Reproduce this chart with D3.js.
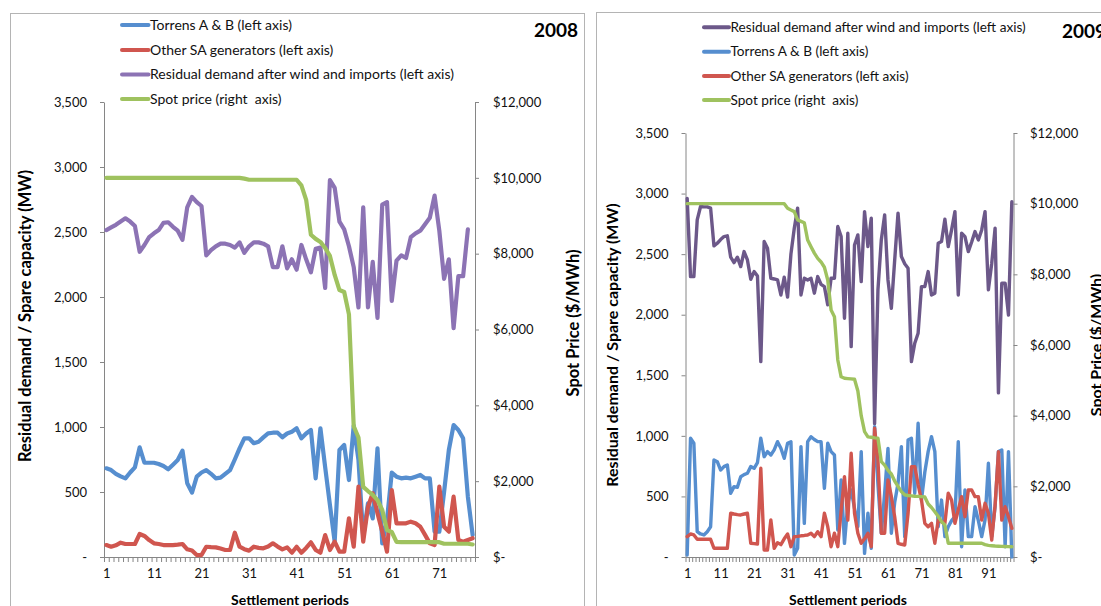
<!DOCTYPE html>
<html>
<head>
<meta charset="utf-8">
<script src="https://cdn.jsdelivr.net/npm/d3@7"></script>
<style>
  html, body { margin: 0; padding: 0; background: #fff; }
  svg { display: block; font-family: Lato, "Open Sans", "Liberation Sans", sans-serif; }
</style>
</head>
<body>
<svg id="chart" width="1101" height="606"></svg>
<script>
// ---------- Categories and tick labels ----------
const periods2008 = d3.range(1, 79);   // settlement periods 1..78
const periods2009 = d3.range(1, 99);   // settlement periods 1..98
const periodLabels = [1, 11, 21, 31, 41, 51, 61, 71, 81, 91];
const mwTicks = [0, 500, 1000, 1500, 2000, 2500, 3000, 3500];
const mwTickLabels = ["-", "500", "1,000", "1,500", "2,000", "2,500", "3,000", "3,500"];
const priceTicks = [0, 2000, 4000, 6000, 8000, 10000, 12000];
const priceTickLabels = ["$-", "$2,000", "$4,000", "$6,000", "$8,000", "$10,000", "$12,000"];

// ---------- 2008 series (MW, $/MWh) ----------
const torrens2008 = [682,669,640,620,605,650,690,844,725,725,
  725,715,700,675,710,746,818,567,495,618,
  650,669,640,605,610,640,669,750,836,913,
  913,875,887,920,951,956,956,921,950,964,
  990,913,950,977,605,990,690,400,118,823,
  862,592,1010,746,156,413,297,836,105,285,
  649,618,605,610,605,618,631,605,605,195,
  195,500,823,1015,977,913,464,170];
const otherSA2008 = [92,79,90,110,100,100,100,177,162,130,
  105,100,92,92,92,95,100,59,50,15,
  15,79,76,74,65,54,54,187,79,60,
  49,79,70,67,80,105,80,59,74,33,
  79,33,70,113,54,33,169,54,118,41,
  41,297,79,541,118,387,490,336,195,41,
  515,259,259,259,272,260,233,170,105,92,
  541,233,195,464,131,118,131,144];
const residual2008 = [2515,2535,2555,2580,2605,2580,2546,2348,2400,2460,
  2490,2515,2570,2575,2540,2510,2440,2690,2770,2730,
  2700,2320,2360,2390,2410,2410,2400,2380,2420,2340,
  2390,2420,2420,2410,2390,2230,2230,2390,2220,2290,
  2210,2400,2290,2190,2370,2380,2070,2900,2840,2580,
  2520,2390,2230,1920,2690,1920,2270,1840,2710,2730,
  1970,2280,2320,2300,2460,2490,2510,2560,2610,2780,
  2510,2140,2290,1760,2160,2160,2520,null];
const spot2008 = [10000,10000,10000,10000,10000,10000,10000,10000,10000,10000,
  10000,10000,10000,10000,10000,10000,10000,10000,10000,10000,
  10000,10000,10000,10000,10000,10000,10000,10000,10000,9980,
  9950,9950,9950,9950,9950,9950,9950,9950,9950,9950,
  9950,9800,9420,8500,8390,8310,8150,7940,7440,7040,
  6990,6400,3450,3150,1850,1740,1640,1500,1240,710,
  660,400,390,390,390,390,390,390,390,390,
  390,350,350,350,350,350,350,330];

// ---------- 2009 series (MW, $/MWh) ----------
const residual2009 = [2960,2315,2315,2783,2893,2890,2890,2880,2568,2590,
  2620,2645,2651,2475,2430,2475,2397,2521,2452,2293,
  2356,2320,1613,2604,2549,2301,2295,2287,2163,2310,
  2145,2500,2714,2880,2163,2301,2287,2301,2178,2315,
  2250,2232,2081,2301,2301,2728,2645,1971,2673,1737,
  2576,2659,2273,2851,2562,2797,1100,2205,2617,2824,
  2287,2053,2450,2838,2480,2420,2384,1613,1765,1847,
  2232,2232,2356,2163,2178,2590,2604,2789,2562,2700,
  2851,2163,2673,2645,2521,2600,2686,2617,2700,2851,
  2205,2425,2714,1355,2260,2260,1998,2933];
const torrens2009 = [16,980,939,209,190,182,209,250,801,787,
  718,746,760,526,581,575,663,680,691,746,
  732,779,980,828,870,842,884,952,898,815,
  939,952,16,72,911,278,952,993,970,952,
  952,567,939,870,842,223,636,113,443,553,
  400,250,870,30,361,72,1076,600,196,526,
  897,196,450,608,911,168,966,980,526,1104,
  470,700,870,993,870,250,470,168,250,300,
  333,952,85,553,168,168,415,300,168,306,
  774,168,415,870,884,85,870,0];
const otherSA2009 = [168,190,182,146,146,146,146,146,72,72,
  72,72,72,361,355,350,347,355,361,113,
  110,107,732,58,58,305,72,118,102,150,
  190,85,168,170,175,178,182,196,168,209,
  168,361,250,85,196,85,380,663,305,856,
  361,196,113,150,196,85,1063,801,196,196,
  636,500,333,113,105,99,361,746,746,600,
  470,278,250,278,113,305,290,278,526,470,
  278,390,498,333,553,553,498,498,305,443,
  361,140,429,870,305,415,333,237];
const spot2009 = [10000,10000,10000,10000,10000,10000,10000,10000,10000,10000,
  10000,10000,10000,10000,10000,10000,10000,10000,10000,10000,
  10000,10000,10000,10000,10000,10000,10000,10000,10000,10000,
  9870,9820,9775,9540,9500,9460,8970,8780,8600,8450,
  8350,8200,7840,6990,6800,5576,5100,5060,5050,5040,
  5030,4700,4000,3550,3400,3390,3370,3360,2700,2600,
  2450,2350,2150,2000,1850,1760,1740,1730,1720,1715,
  1710,1700,1500,1400,1280,1150,1000,906,390,388,
  388,388,388,388,388,388,388,388,388,350,
  330,320,310,305,300,297,294,292];

// ---------- Colours ----------
const COL = {
  torrens: "#568ecf",
  other: "#d0564f",
  residualLight: "#8c73b4",
  residualDark: "#6c5889",
  spot: "#9fc25f",
  axis: "#868686",
  frame: "#b4b4b4",
  text: "#111"
};

const svg = d3.select("#chart");

function drawPanel(cfg) {
  const g = svg.append("g");

  // outer frame of the chart area
  g.append("rect")
    .attr("x", cfg.frame[0] + 0.5).attr("y", cfg.frame[1] + 0.5)
    .attr("width", cfg.frame[2]).attr("height", cfg.frame[3])
    .attr("fill", "#fff").attr("stroke", COL.frame).attr("stroke-width", 1);

  const n = cfg.periods.length;
  const x = d3.scaleLinear().domain([0.5, n + 0.5]).range([cfg.left, cfg.right]);
  const yL = d3.scaleLinear().domain([0, 3500]).range([cfg.bottom, cfg.top]);
  const yR = d3.scaleLinear().domain([0, 12000]).range([cfg.bottom, cfg.top]);

  const styleAxis = (sel, fs) => {
    sel.select(".domain").attr("stroke", COL.axis).attr("stroke-width", 1);
    sel.selectAll(".tick line").attr("stroke", COL.axis).attr("stroke-width", 1);
    sel.selectAll(".tick text").attr("fill", COL.text)
      .style("font-size", fs + "px").style("font-family", "Lato, 'Open Sans', sans-serif");
  };

  // left value axis (MW)
  const axL = g.append("g").attr("transform", `translate(${cfg.left},0)`)
    .call(d3.axisLeft(yL).tickValues(mwTicks).tickFormat((d, i) => mwTickLabels[i])
      .tickSize(4).tickSizeOuter(0).tickPadding(13));
  styleAxis(axL, cfg.tickFont);

  // right value axis ($/MWh), labels left aligned
  const axR = g.append("g").attr("transform", `translate(${cfg.right},0)`)
    .call(d3.axisRight(yR).tickValues(priceTicks).tickFormat((d, i) => priceTickLabels[i])
      .tickSize(4).tickSizeOuter(0).tickPadding(cfg.rightPad));
  styleAxis(axR, cfg.tickFont);

  // category axis: minor marks between periods
  const edges = d3.range(0, n + 1).map(k => k + 0.5);
  const axB = g.append("g").attr("transform", `translate(0,${cfg.bottom})`)
    .call(d3.axisBottom(x).tickValues(edges).tickFormat("").tickSize(5).tickSizeOuter(0));
  styleAxis(axB, cfg.tickFont);
  // category labels every ten periods
  const axBL = g.append("g").attr("transform", `translate(0,${cfg.bottom})`)
    .call(d3.axisBottom(x).tickValues(periodLabels.filter(p => p <= n))
      .tickFormat(d3.format("d")).tickSize(0).tickPadding(12));
  axBL.select(".domain").remove();
  styleAxis(axBL, cfg.tickFont);

  // series lines
  cfg.series.forEach(s => {
    const yScale = s.axis === "right" ? yR : yL;
    const pts = cfg.periods.map((p, i) => ({ p, v: s.values[i] }));
    g.append("path")
      .datum(pts)
      .attr("fill", "none")
      .attr("stroke", s.color)
      .attr("stroke-width", cfg.lineWidth)
      .attr("stroke-linejoin", "round")
      .attr("stroke-linecap", "round")
      .attr("d", d3.line().defined(d => d.v != null).x(d => x(d.p)).y(d => yScale(d.v)));
  });

  // legend
  const lg = g.append("g");
  cfg.legend.forEach((s, i) => {
    const yy = cfg.legendY[i];
    lg.append("line")
      .attr("x1", cfg.legendX[0]).attr("x2", cfg.legendX[1])
      .attr("y1", yy).attr("y2", yy)
      .attr("stroke", s.color).attr("stroke-width", 4).attr("stroke-linecap", "round");
    lg.append("text")
      .attr("x", cfg.legendX[1] + 1.5).attr("y", yy)
      .attr("dy", "0.35em")
      .attr("fill", COL.text)
      .style("font-size", cfg.legendFont + "px")
      .style("white-space", "pre")
      .text(s.label);
  });

  // year title
  g.append("text")
    .attr("x", cfg.yearPos[0]).attr("y", cfg.yearPos[1]).attr("dy", "0.35em")
    .attr("text-anchor", cfg.yearAnchor)
    .attr("fill", "#000").style("font-size", "19px").style("font-weight", "bold")
    .text(cfg.year);

  // axis titles
  g.append("text")
    .attr("transform", `translate(${cfg.leftTitle[0]},${cfg.leftTitle[1]}) rotate(-90)`)
    .attr("text-anchor", "middle").attr("dy", "0.35em")
    .attr("fill", "#000").style("font-size", cfg.yTitleFont + "px").style("font-weight", "bold")
    .text("Residual demand / Spare capacity (MW)");
  g.append("text")
    .attr("transform", `translate(${cfg.rightTitle[0]},${cfg.rightTitle[1]}) rotate(-90)`)
    .attr("text-anchor", "middle").attr("dy", "0.35em")
    .attr("fill", "#000").style("font-size", cfg.yTitleFont + "px").style("font-weight", "bold")
    .text("Spot Price ($/MWh)");
  g.append("text")
    .attr("x", cfg.bottomTitle[0]).attr("y", cfg.bottomTitle[1]).attr("dy", "0.35em")
    .attr("text-anchor", "middle")
    .attr("fill", "#000").style("font-size", cfg.xTitleFont + "px").style("font-weight", "bold")
    .text("Settlement periods");
}

// ---------- 2008 panel ----------
const s08 = {
  torrens: { label: "Torrens A & B (left axis)", values: torrens2008, color: COL.torrens, axis: "left" },
  other: { label: "Other SA generators (left axis)", values: otherSA2008, color: COL.other, axis: "left" },
  residual: { label: "Residual demand after wind and imports (left axis)", values: residual2008, color: COL.residualLight, axis: "left" },
  spot: { label: "Spot price (right  axis)", values: spot2008, color: COL.spot, axis: "right" }
};
drawPanel({
  frame: [10, 13, 574, 620],
  periods: periods2008,
  left: 104, right: 475, top: 102, bottom: 557,
  tickFont: 13, rightPad: 14, lineWidth: 4.2,
  series: [s08.torrens, s08.other, s08.residual, s08.spot],
  legend: [s08.torrens, s08.other, s08.residual, s08.spot],
  legendX: [122, 148.5], legendY: [25, 50, 74.5, 99], legendFont: 14,
  year: "2008", yearPos: [578, 30], yearAnchor: "end",
  yTitleFont: 16.5, xTitleFont: 14,
  leftTitle: [25, 316], rightTitle: [573, 323], bottomTitle: [290, 600]
});

// ---------- 2009 panel ----------
const s09 = {
  residual: { label: "Residual demand after wind and imports (left axis)", values: residual2009, color: COL.residualDark, axis: "left" },
  torrens: { label: "Torrens A & B (left axis)", values: torrens2009, color: COL.torrens, axis: "left" },
  other: { label: "Other SA generators (left axis)", values: otherSA2009, color: COL.other, axis: "left" },
  spot: { label: "Spot price (right  axis)", values: spot2009, color: COL.spot, axis: "right" }
};
drawPanel({
  frame: [596, 12, 600, 620],
  periods: periods2009,
  left: 685.5, right: 1013.5, top: 133, bottom: 557,
  tickFont: 13, rightPad: 12.5, lineWidth: 3.4,
  series: [s09.residual, s09.torrens, s09.other, s09.spot],
  legend: [s09.residual, s09.torrens, s09.other, s09.spot],
  legendX: [704, 729], legendY: [27.3, 51.7, 76, 100], legendFont: 13.6,
  year: "2009", yearPos: [1062, 31], yearAnchor: "start",
  yTitleFont: 16, xTitleFont: 14,
  leftTitle: [612, 345], rightTitle: [1096, 345], bottomTitle: [848, 600]
});
</script>
</body>
</html>
